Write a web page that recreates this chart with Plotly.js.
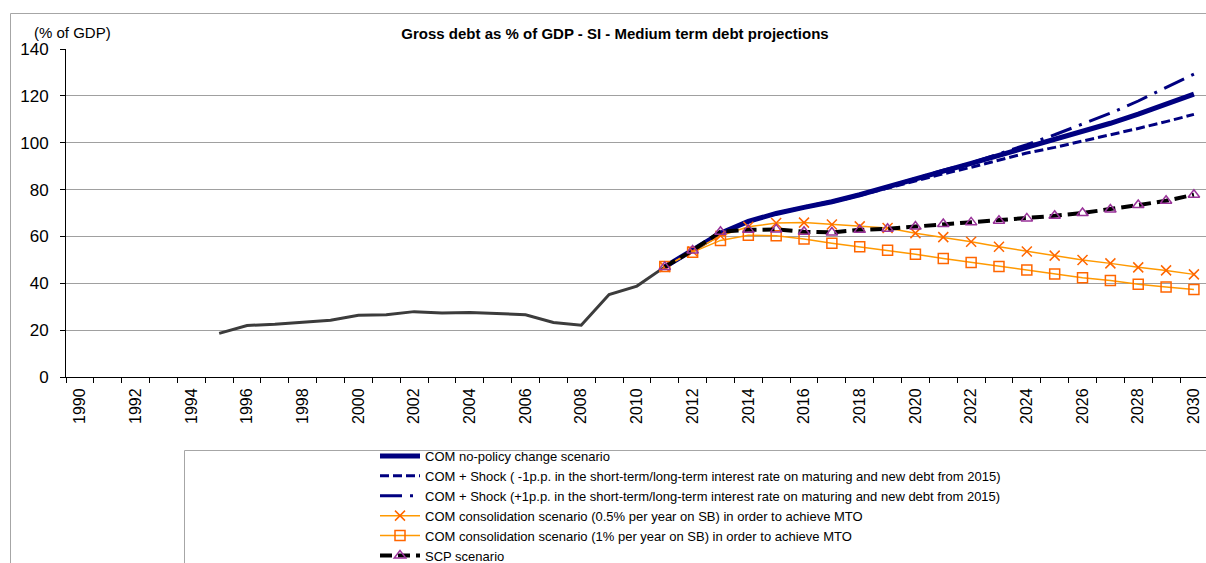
<!DOCTYPE html>
<html>
<head>
<meta charset="utf-8">
<script src="https://cdn.plot.ly/plotly-3.0.1.min.js"></script>
<style>html,body{margin:0;padding:0;background:#fff;}#chart{width:1206px;height:563px;}</style>
</head>
<body>
<div id="chart"></div>
<script>
// ---- data ----
const histYears = [1995,1996,1997,1998,1999,2000,2001,2002,2003,2004,2005,2006,2007,2008,2009,2010,2011];
const histDebt  = [18.6,22.0,22.5,23.2,24.2,26.4,26.6,27.9,27.3,27.5,26.9,26.6,23.3,22.1,35.2,38.8,47.0];

const projYears = [2011,2012,2013,2014,2015,2016,2017,2018,2019,2020,2021,2022,2023,2024,2025,2026,2027,2028,2029,2030];
const noPolicy   = [47.0,54.2,61.4,66.4,69.8,72.4,74.8,77.8,81.0,84.4,87.9,91.2,94.6,98.0,101.2,104.5,108.3,112.2,116.3,120.7];
const shockMinus = [47.0,54.2,61.4,66.4,69.7,72.3,74.6,77.5,80.6,83.8,86.7,89.5,92.5,95.6,98.0,100.6,103.3,106.1,109.0,112.1];
const shockPlus  = [47.0,54.2,61.4,66.4,69.9,72.6,75.0,78.0,81.2,84.8,88.3,91.4,95.2,99.2,103.4,107.9,112.6,117.8,123.4,129.3];
const cons05     = [47.0,53.6,60.3,64.1,65.7,65.9,65.1,64.3,63.6,61.4,59.7,57.7,55.6,53.6,51.8,49.9,48.5,46.8,45.5,43.8];
const cons1      = [47.2,53.3,58.3,60.5,60.3,58.9,57.1,55.6,54.1,52.4,50.6,48.9,47.2,45.7,44.0,42.4,41.2,39.6,38.4,37.3];
const scp        = [47.0,54.0,62.0,62.8,63.0,62.0,61.7,62.8,63.3,64.2,65.3,66.0,66.7,67.7,68.8,70.0,71.5,73.4,75.2,77.8];

const xTickYears = [1990,1992,1994,1996,1998,2000,2002,2004,2006,2008,2010,2012,2014,2016,2018,2020,2022,2024,2026,2028,2030];
const yTicks = [0,20,40,60,80,100,120,140];

const names = [
  'COM no-policy change scenario',
  'COM + Shock ( -1p.p. in the short-term/long-term interest rate on maturing and new debt from 2015)',
  'COM + Shock (+1p.p. in the short-term/long-term interest rate on maturing and new debt from 2015)',
  'COM consolidation scenario (0.5% per year on SB) in order to achieve MTO',
  'COM consolidation scenario (1% per year on SB) in order to achieve MTO',
  'SCP scenario'
];
const titleText = 'Gross debt as % of GDP - SI - Medium term debt projections';
const unitText = '(% of GDP)';

// ---- layout helpers ----
const W = 1206, H = 563;
const M = {l: 66, r: 0, t: 49, b: 186, autoexpand: false};
const pw = W - M.l - M.r, ph = H - M.t - M.b;
const pxX = px => (px - M.l) / pw;
const pxY = py => (H - M.b - py) / ph;
const FONT = 'Liberation Sans, Arial, sans-serif';

const traces = [
  {x: histYears, y: histDebt, mode: 'lines', showlegend: false,
   line: {color: '#3c3c3c', width: 3}},
  {x: projYears, y: noPolicy, mode: 'lines', name: names[0],
   line: {color: '#000080', width: 5}},
  {x: projYears, y: shockMinus, mode: 'lines', name: names[1],
   line: {color: '#000080', width: 3, dash: '9px,4px'}},
  {x: projYears, y: shockPlus, mode: 'lines', name: names[2],
   line: {color: '#000080', width: 3, dash: '22px,8px,3px,8px'}},
  {x: projYears, y: cons05, mode: 'lines+markers', name: names[3],
   line: {color: '#FF9900', width: 1.5},
   marker: {symbol: 'x-thin', size: 10, color: '#FF6600', line: {color: '#FF6600', width: 1.5}}},
  {x: projYears, y: cons1, mode: 'lines+markers', name: names[4],
   line: {color: '#FF9900', width: 1.5},
   marker: {symbol: 'square-open', size: 10, color: '#FF6600', line: {color: '#FF6600', width: 1.5}}},
  {x: projYears, y: scp, mode: 'lines+markers', name: names[5],
   line: {color: '#000000', width: 4, dash: '12px,6px'},
   marker: {symbol: 'triangle-up-open', size: 10, color: '#993399', line: {color: '#993399', width: 1.5}}}
];

const layout = {
  width: W, height: H,
  margin: M,
  paper_bgcolor: '#fff', plot_bgcolor: '#fff',
  font: {family: FONT, color: '#000'},
  showlegend: true,
  title: {text: '<b>' + titleText + '</b>', font: {family: FONT, size: 15, color: '#000'},
          xref: 'container', yref: 'container', x: 615 / W, xanchor: 'center',
          y: 1 - 34 / H, yanchor: 'middle'},
  xaxis: {
    range: [1989.5, 1989.5 + pw / 27.85],
    tickmode: 'array', tickvals: xTickYears, ticktext: xTickYears.map(String),
    tickangle: -90, tickfont: {size: 16, family: FONT, color: '#000'},
    ticks: '', ticklabelstandoff: 4,
    showline: true, linecolor: '#000', linewidth: 1,
    showgrid: false, zeroline: false, fixedrange: true, automargin: false,
    minor: {tick0: 1989.5, dtick: 1, ticks: 'outside', ticklen: 5, tickcolor: '#000', tickwidth: 1, showgrid: false}
  },
  yaxis: {
    range: [0, 140], tickmode: 'array', tickvals: yTicks,
    tickfont: {size: 17, family: FONT, color: '#000'},
    ticks: 'outside', ticklen: 5, tickcolor: '#000', ticklabelstandoff: 8,
    showline: true, linecolor: '#000', linewidth: 1,
    showgrid: true, gridcolor: '#a0a0a0', gridwidth: 1,
    zeroline: false, fixedrange: true, automargin: false
  },
  legend: {
    x: pxX(375), xanchor: 'left', xref: 'paper',
    y: pxY(441), yanchor: 'top', yref: 'paper',
    bgcolor: 'rgba(0,0,0,0)', borderwidth: 0,
    font: {size: 13, family: FONT, color: '#000'},
    itemwidth: 40, traceorder: 'normal', tracegroupgap: 0
  },
  annotations: [
    {text: unitText, xref: 'paper', yref: 'paper', x: pxX(32), y: pxY(32),
     xanchor: 'left', yanchor: 'middle', showarrow: false,
     font: {size: 15, family: FONT, color: '#000'}}
  ],
  shapes: [
    {type: 'rect', xref: 'paper', yref: 'paper', layer: 'below',
     x0: pxX(10.5), y0: pxY(13.5), x1: pxX(1400), y1: pxY(800),
     line: {color: '#a6a6a6', width: 1}, fillcolor: 'rgba(0,0,0,0)'},
    {type: 'rect', xref: 'paper', yref: 'paper', layer: 'below',
     x0: pxX(184.5), y0: pxY(450.5), x1: pxX(1400), y1: pxY(800),
     line: {color: '#a6a6a6', width: 1}, fillcolor: 'rgba(0,0,0,0)'}
  ]
};

Plotly.newPlot('chart', traces, layout, {displayModeBar: false, staticPlot: true});
</script>
</body>
</html>
